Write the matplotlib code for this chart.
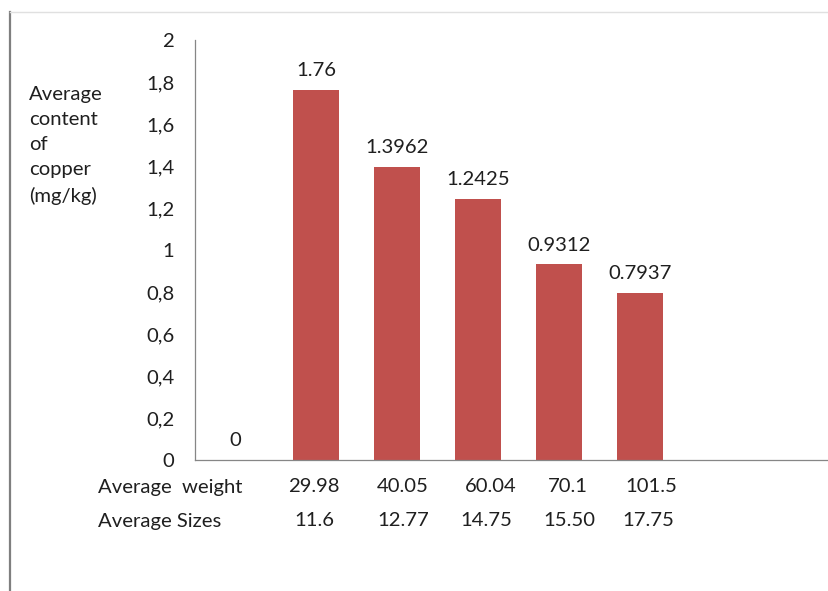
import matplotlib
matplotlib.use("Agg")
import matplotlib.pyplot as plt
from matplotlib.lines import Line2D
from matplotlib.ticker import FuncFormatter
import matplotlib.transforms as mtransforms

plt.rcParams["font.family"] = ["Lato", "DejaVu Sans"]

# data
copper = [0, 1.76, 1.3962, 1.2425, 0.9312, 0.7937]
bar_labels = ["0", "1.76", "1.3962", "1.2425", "0.9312", "0.7937"]
weights = ["29.98", "40.05", "60.04", "70.1", "101.5"]
sizes = ["11.6", "12.77", "14.75", "15.50", "17.75"]

barColor = "#C0504D"
axisColor = "#868686"
textColor = "#1f1f1f"
fs = 14.6

fig = plt.figure(figsize=(8.29, 5.91), dpi=100)
ax = fig.add_axes([195 / 829, 1 - 460 / 591, 1 - 195 / 829, 420 / 591])

xs = list(range(len(copper)))
ax.bar(xs, copper, width=0.57, color=barColor)
ax.set_xlim(-0.5, 7.34)
ax.set_ylim(0, 2)

for x, v, lab in zip(xs, copper, bar_labels):
    ax.annotate(lab, (x, v), xytext=(0, 14), textcoords="offset points",
                ha="center", va="center", fontsize=fs, color=textColor)

ax.set_yticks([0, 0.2, 0.4, 0.6, 0.8, 1.0, 1.2, 1.4, 1.6, 1.8, 2.0])
ax.yaxis.set_major_formatter(FuncFormatter(lambda v, p: ("%g" % round(v, 1)).replace(".", ",")))
ax.tick_params(axis="y", length=0, pad=15, labelsize=fs, labelcolor=textColor)
ax.set_xticks([])

for s in ["top", "right"]:
    ax.spines[s].set_visible(False)
for s in ["left", "bottom"]:
    ax.spines[s].set_color(axisColor)
    ax.spines[s].set_linewidth(0.9)

# y label as a text block on the left
fig.text(29 / 829, 1 - 86 / 591, "Average\ncontent\nof\ncopper\n(mg/kg)",
         ha="left", va="top", fontsize=fs, color=textColor, linespacing=1.57)

# two rows of values under the axis
trans = mtransforms.blended_transform_factory(ax.transData, fig.transFigure)
shift_w = [-0.03, 0.07, 0.16, 0.11, 0.14]
shift_s = [-0.02, 0.08, 0.10, 0.13, 0.10]
row_w = 1 - 487 / 591
row_s = 1 - 521 / 591
fig.text(98 / 829, row_w, "Average  weight", ha="left", va="center", fontsize=fs, color=textColor)
fig.text(98 / 829, row_s, "Average Sizes", ha="left", va="center", fontsize=fs, color=textColor)
for i, (w, sz) in enumerate(zip(weights, sizes)):
    ax.text(i + 1 + shift_w[i], row_w, w, transform=trans, ha="center", va="center",
            fontsize=fs, color=textColor, clip_on=False)
    ax.text(i + 1 + shift_s[i], row_s, sz, transform=trans, ha="center", va="center",
            fontsize=fs, color=textColor, clip_on=False)

# frame lines of the original picture
fig.add_artist(Line2D([10 / 829, 10 / 829], [0, 1 - 12 / 591], color="#7f7f7f", linewidth=1.6))
fig.add_artist(Line2D([10 / 829, 1], [1 - 12 / 591, 1 - 12 / 591], color="#e0e0e0", linewidth=1.0))

fig.savefig("out.png", dpi=100)
